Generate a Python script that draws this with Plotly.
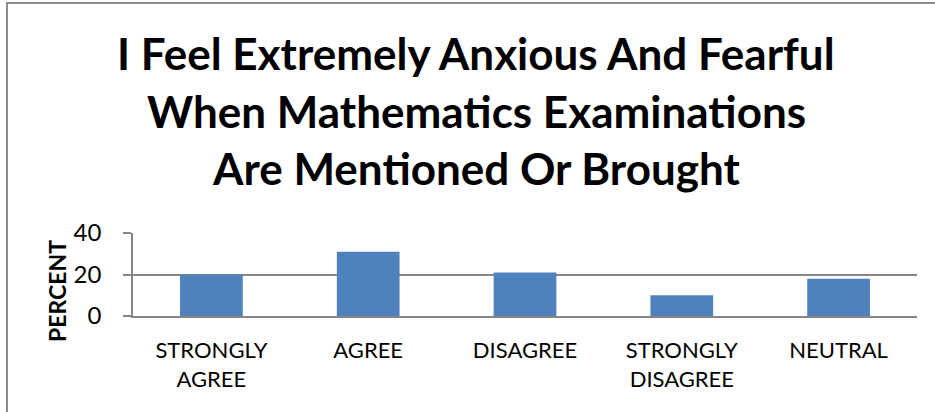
import plotly.graph_objects as go

categories = ["STRONGLY<br>AGREE", "AGREE", "DISAGREE", "STRONGLY<br>DISAGREE", "NEUTRAL"]
percent = [20, 31, 21, 10, 18]
title_lines = ["I Feel Extremely Anxious And Fearful",
               "When Mathematics Examinations",
               "Are Mentioned Or Brought"]
y_title = "PERCENT"

W, H = 935, 412
L, R, T, B = 133, 18, 233, 96
PW, PH = W - L - R, H - T - B


def px_x(x):
    return (x - L) / PW


def px_y(y):
    return 1 + (T - y) / PH


fig = go.Figure(go.Bar(x=categories, y=percent,
                       marker=dict(color="#4F81BD", line=dict(width=0)),
                       width=0.4))

grid = "#868686"
fig.update_layout(
    width=W, height=H,
    margin=dict(l=L, r=R, t=T, b=B, pad=0, autoexpand=False),
    paper_bgcolor="white", plot_bgcolor="white",
    showlegend=False,
    font=dict(family="Lato", color="black"),
)
fig.update_yaxes(range=[0, 40], dtick=20, showgrid=True, gridcolor=grid, gridwidth=1.5,
                 showline=True, linecolor=grid, linewidth=1.5,
                 ticks="outside", ticklen=8, tickcolor=grid, tickwidth=1.5,
                 ticklabelstandoff=17,
                 tickfont=dict(size=24, family="Lato", color="black"), zeroline=False)
fig.update_xaxes(showline=True, linecolor=grid, linewidth=1.5, ticks="",
                 ticklabelstandoff=14,
                 tickfont=dict(size=22, family="Lato", color="black"))

centers = [53, 111, 168]
for txt, cy in zip(title_lines, centers):
    fig.add_annotation(text="<b>%s</b>" % txt, xref="paper", yref="paper",
                       x=px_x(476), y=px_y(cy),
                       showarrow=False, xanchor="center", yanchor="middle",
                       font=dict(size=44, family="Lato", color="black"))

fig.add_annotation(text="<b>%s</b>" % y_title, xref="paper", yref="paper",
                   x=px_x(57), y=px_y(291),
                   textangle=-90, showarrow=False, xanchor="center", yanchor="middle",
                   font=dict(size=23, family="Lato", color="black"))

# outer chart border (only left and top edges fall inside the picture)
fig.add_shape(type="rect", xref="paper", yref="paper",
              x0=px_x(7), x1=px_x(W + 20),
              y0=px_y(H + 20), y1=px_y(3),
              line=dict(color="#8c8c8c", width=2), layer="below")

fig.write_html("out.html", config={"displayModeBar": False},
               post_script="document.body.style.margin='0px';document.body.style.overflow='hidden';")
